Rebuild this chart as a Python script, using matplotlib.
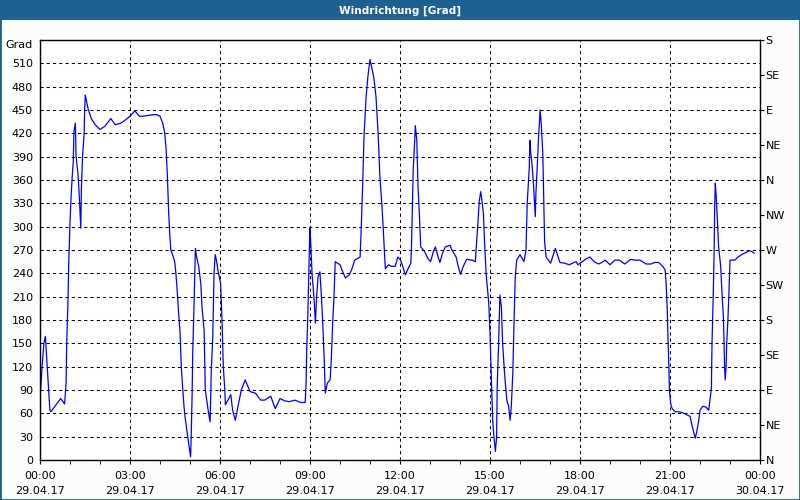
import matplotlib
matplotlib.use("Agg")
import matplotlib.pyplot as plt
from matplotlib.patches import Rectangle

# Windrichtung 29.04.17, Zeit in Stunden ab 00:00
hours = [
    0.02, 0.07, 0.13, 0.18, 0.24, 0.29, 0.33, 0.36, 0.69, 0.82, 0.87, 0.89, 0.93, 0.96,
    1.00, 1.04, 1.07, 1.11, 1.13, 1.18, 1.20, 1.27, 1.31, 1.36, 1.38, 1.42, 1.47, 1.49,
    1.51, 1.53, 1.60, 1.71, 1.84, 2.00, 2.16, 2.36, 2.51, 2.69, 2.84, 3.00, 3.16, 3.31,
    3.42, 3.78, 3.89, 4.00, 4.09, 4.16, 4.20, 4.24, 4.29, 4.33, 4.36, 4.42, 4.49, 4.53,
    4.58, 4.62, 4.67, 4.71, 4.76, 4.80, 4.84, 4.89, 4.93, 4.98, 5.02, 5.04, 5.07, 5.09,
    5.13, 5.18, 5.22, 5.29, 5.36, 5.40, 5.47, 5.51, 5.58, 5.62, 5.67, 5.71, 5.76, 5.80,
    5.84, 5.89,
    5.93, 6.02, 6.07, 6.11, 6.16, 6.18, 6.36, 6.42, 6.51, 6.60, 6.71, 6.84, 7.00, 7.18,
    7.36, 7.49, 7.69, 7.84, 8.00, 8.16, 8.31, 8.49, 8.69, 8.84, 8.87, 8.89, 8.93, 8.96,
    8.98, 9.00, 9.02, 9.07, 9.13, 9.18, 9.22, 9.27, 9.33, 9.38, 9.42, 9.47, 9.51, 9.58,
    9.67, 9.71, 9.76, 9.80, 9.84, 10.00, 10.07, 10.18, 10.31, 10.40, 10.49, 10.67, 10.71,
    10.76, 10.80, 10.87, 10.93, 11.00, 11.04, 11.13, 11.20, 11.27, 11.33, 11.40, 11.44,
    11.51, 11.62, 11.71, 11.84,
    11.93, 12.02, 12.09, 12.18, 12.27, 12.36, 12.38, 12.40, 12.44, 12.49, 12.51, 12.56,
    12.60, 12.64, 12.69, 12.82, 12.93, 13.02, 13.11, 13.18, 13.27, 13.33, 13.42, 13.51,
    13.67, 13.73, 13.87, 13.96, 14.02, 14.11, 14.22, 14.40, 14.51, 14.56, 14.60, 14.64,
    14.69, 14.73, 14.78, 14.82, 14.87, 14.91, 14.96, 15.00, 15.04, 15.09, 15.13, 15.18,
    15.22, 15.24, 15.29, 15.33, 15.38, 15.42, 15.47, 15.51, 15.56, 15.62, 15.67, 15.71,
    15.76, 15.80, 15.84, 15.89, 16.00, 16.07, 16.13, 16.20, 16.24, 16.31, 16.33, 16.36,
    16.40, 16.44, 16.49, 16.51, 16.53, 16.58, 16.62, 16.67, 16.71, 16.76, 16.80, 16.82,
    16.87, 17.02, 17.11, 17.18, 17.27, 17.33, 17.49, 17.64, 17.80, 17.87,
    17.93, 18.04, 18.18, 18.33, 18.47, 18.62, 18.73, 18.84, 19.00, 19.16, 19.31, 19.49,
    19.69, 19.82, 20.00, 20.20, 20.36, 20.49, 20.62, 20.76, 20.84, 20.87, 20.91, 20.93,
    20.96, 20.98, 21.02, 21.07, 21.18, 21.31, 21.47, 21.67, 21.73, 21.80, 21.84, 21.89,
    21.96, 22.00, 22.09, 22.20, 22.29, 22.38, 22.40, 22.44, 22.47, 22.49, 22.51, 22.53,
    22.58, 22.62, 22.69, 22.73, 22.78, 22.80, 22.82, 22.84, 22.87, 22.89, 22.93, 22.96,
    23.00, 23.16, 23.27, 23.38, 23.49, 23.64, 23.73, 23.80,
]
degrees = [
    90, 120, 150, 159, 120, 90, 64, 62, 79, 72, 99, 150, 201, 255,
    306, 341, 362, 384, 422, 433, 392, 366, 339, 298, 349, 392, 418, 452,
    469, 465, 452, 439, 431, 425, 429, 439, 431, 433, 437, 442, 449, 442,
    442, 444, 444, 442, 433, 420, 401, 371, 317, 287, 270, 264, 255, 240,
    214, 189, 163, 120, 90, 69, 54, 39, 28, 15, 4, 30, 84, 137,
    193, 272, 261, 249, 227, 197, 167, 90, 71, 60, 49, 116, 159, 240,
    264, 255,
    244, 227, 176, 120, 90, 71, 84, 64, 51, 69, 90, 103, 88, 86,
    77, 77, 82, 66, 79, 76, 75, 77, 74, 74, 99, 141, 189, 240,
    274, 298, 283, 238, 210, 176, 210, 236, 242, 210, 180, 133, 86, 99,
    103, 129, 180, 210, 255, 251, 244, 234, 238, 246, 257, 261, 300,
    360, 416, 467, 493, 515, 508, 491, 467, 420, 364, 326, 298,
    246, 251, 249, 249,
    261, 257, 249, 238, 246, 253, 270, 306, 373, 411, 430, 411,
    351, 321, 274, 268, 259, 255, 268, 274, 261, 254, 266, 274,
    276, 270, 261, 246, 239, 249, 258, 257, 255, 283, 306, 332,
    345, 334, 317, 279, 240, 223, 201, 163, 111, 51, 30, 11,
    30, 94, 154, 212, 197, 150, 120, 99, 77, 69, 51, 69,
    111, 176, 234, 257, 264, 259, 255, 270, 330, 377, 411, 394,
    381, 360, 326, 313, 343, 381, 416, 450, 431, 394, 317, 281,
    261, 253, 264, 272, 261, 254, 253, 251, 254, 255,
    251, 254, 258, 261, 255, 252, 254, 257, 251, 257, 257, 252,
    258, 257, 257, 252, 252, 254, 254, 249, 244, 227, 193, 159,
    124, 90, 73, 66, 62, 62, 60, 56, 45, 34, 28, 36,
    51, 64, 69, 68, 64, 92, 150, 210, 266, 326, 356, 345,
    309, 274, 249, 217, 184, 150, 120, 103, 120, 150, 180, 210,
    257, 257, 261, 264, 266, 269, 268, 266,
]

y_ticks = list(range(0, 541, 30))
y_labels = [str(v) for v in y_ticks[:-1]] + ["Grad"]
compass_ticks = list(range(0, 541, 45))
compass_labels = ["N", "NE", "E", "SE", "S", "SW", "W", "NW", "N", "NE", "E", "SE", "S"]
x_ticks = list(range(0, 25, 3))
x_labels = ["00:00\n29.04.17", "03:00\n29.04.17", "06:00\n29.04.17", "09:00\n29.04.17",
            "12:00\n29.04.17", "15:00\n29.04.17", "18:00\n29.04.17", "21:00\n29.04.17",
            "00:00\n30.04.17"]

bar_color = "#1d6192"
plt.rcParams["font.family"] = "DejaVu Sans"
plt.rcParams["font.size"] = 8

fig = plt.figure(figsize=(8, 5), dpi=100)
fig.patch.set_facecolor("#fbfdfb")

# Titelleiste und Rahmen
fig.patches.append(Rectangle((0, 0.96), 1, 0.04, transform=fig.transFigure,
                             facecolor=bar_color, edgecolor="none", zorder=0))
fig.patches.append(Rectangle((0, 0), 1, 1, transform=fig.transFigure, fill=False,
                             edgecolor=bar_color, lw=2, zorder=5))
fig.text(0.5, 0.979, "Windrichtung [Grad]", color="white", fontweight="bold",
         fontsize=7.6, ha="center", va="center")

ax = fig.add_axes([0.05, 0.08, 0.9, 0.84])
ax.set_facecolor("white")
ax.plot(hours, degrees, color="#0000ff", lw=0.9)

ax.set_xlim(0, 24)
ax.set_ylim(0, 540)
ax.set_yticks(y_ticks)
ax.set_yticklabels(y_labels)
ax.get_yticklabels()[-1].set_verticalalignment("top")
ax.set_xticks(x_ticks)
ax.set_xticklabels(x_labels, linespacing=1.6)
ax.set_xticks(range(0, 25), minor=True)
ax.tick_params(axis="y", length=0, pad=5)
ax.tick_params(axis="x", which="both", direction="out", length=3, pad=5)
ax.grid(True, which="major", color="black", linestyle=(0, (3, 3)), lw=0.75)
for s in ax.spines.values():
    s.set_color("black")
    s.set_linewidth(1)

ax2 = ax.twinx()
ax2.set_ylim(0, 540)
ax2.set_yticks(compass_ticks)
ax2.set_yticklabels(compass_labels)
ax2.tick_params(axis="y", direction="out", length=3, pad=1)
for s in ax2.spines.values():
    s.set_visible(False)

fig.savefig("out.png", dpi=100, facecolor=fig.get_facecolor())
